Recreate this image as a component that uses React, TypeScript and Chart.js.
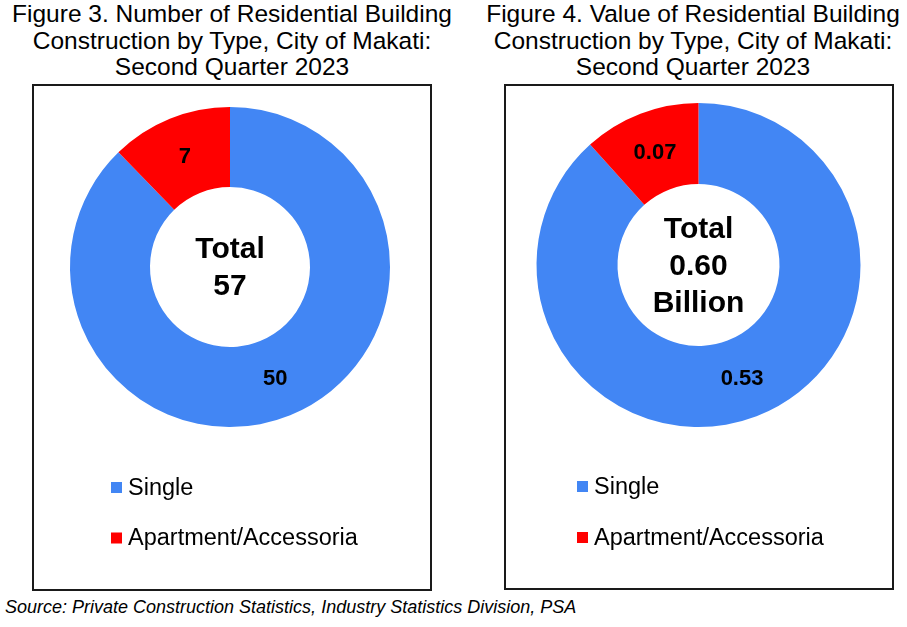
import React, { useEffect, useRef } from "react";
import { Chart, registerables } from "chart.js";

Chart.register(...registerables);

// ---- Data ----
const categories = ["Single", "Apartment/Accessoria"];
const sliceColors = ["#4286F4", "#FF0000"];
const numberValues = [50, 7];
const valueBillions = [0.53, 0.07];
const titleFig3 = [
  "Figure 3. Number of Residential Building",
  "Construction by Type, City of Makati:",
  "Second Quarter 2023",
];
const titleFig4 = [
  "Figure 4. Value of Residential Building",
  "Construction by Type, City of Makati:",
  "Second Quarter 2023",
];
const sourceText =
  "Source: Private Construction Statistics, Industry Statistics Division, PSA";

const FONT = '"Liberation Sans", Arial, Helvetica, sans-serif';

type PanelProps = {
  title: string[];
  titleCenter: number;
  values: number[];
  fmt: (v: number) => string;
  centerLines: string[];
  box: { left: number; top: number; width: number; height: number };
  padding: { left: number; right: number; top: number; bottom: number };
  legend: { x: number; y: number; gap: number };
};

function Panel(p: PanelProps) {
  const ref = useRef<HTMLCanvasElement | null>(null);
  const innerW = p.box.width - 4;
  const innerH = p.box.height - 4;

  useEffect(() => {
    if (!ref.current) return;
    const overlay = {
      id: "overlay",
      afterDatasetsDraw(chart: any) {
        const ctx = chart.ctx as CanvasRenderingContext2D;
        const meta = chart.getDatasetMeta(0);
        ctx.save();
        // slice labels
        ctx.fillStyle = "#000";
        ctx.textAlign = "center";
        ctx.textBaseline = "middle";
        ctx.font = `bold 22px ${FONT}`;
        meta.data.forEach((arc: any, i: number) => {
          const pt = arc.getCenterPoint();
          ctx.fillText(p.fmt(p.values[i]), pt.x, pt.y + 1);
        });
        // center text
        const c = meta.data[0];
        const cx = c.x;
        const cy = c.y;
        ctx.font = `bold 30px ${FONT}`;
        const lh = 37;
        const n = p.centerLines.length;
        p.centerLines.forEach((t, i) => {
          ctx.fillText(t, cx, cy + (i - (n - 1) / 2) * lh + 1.5);
        });
        // legend
        ctx.textAlign = "left";
        ctx.font = `23.5px ${FONT}`;
        chart.data.labels.forEach((lab: string, i: number) => {
          const y = p.legend.y + i * p.legend.gap;
          ctx.fillStyle = chart.data.datasets[0].backgroundColor[i];
          ctx.fillRect(p.legend.x, y - 5.5, 11, 11);
          ctx.fillStyle = "#000";
          ctx.fillText(lab, p.legend.x + 17, y + 1);
        });
        ctx.restore();
      },
    };
    const chart = new Chart(ref.current, {
      type: "doughnut",
      data: {
        labels: categories,
        datasets: [
          {
            data: p.values,
            backgroundColor: sliceColors,
            borderWidth: 0,
          },
        ],
      },
      options: {
        responsive: false,
        animation: false,
        devicePixelRatio: 1,
        cutout: "50%",
        layout: { padding: p.padding },
        plugins: {
          legend: { display: false },
          tooltip: { enabled: false },
          title: { display: false },
        },
      } as any,
      plugins: [overlay],
    });
    return () => chart.destroy();
  }, []);

  return (
    <>
      <div
        style={{
          position: "absolute",
          left: p.titleCenter - 250,
          width: 500,
          top: 1,
          textAlign: "center",
          fontFamily: FONT,
          fontSize: 24.5,
          lineHeight: "26.5px",
          color: "#000",
        }}
      >
        {p.title.map((t, i) => (
          <div key={i}>{t}</div>
        ))}
      </div>
      <div
        style={{
          position: "absolute",
          left: p.box.left,
          top: p.box.top,
          width: innerW,
          height: innerH,
          border: "2px solid #1a1a1a",
          background: "#fff",
        }}
      >
        <canvas
          ref={ref}
          width={innerW}
          height={innerH}
          style={{ display: "block", width: innerW, height: innerH }}
        />
      </div>
    </>
  );
}

export default function App() {
  const total1 = numberValues.reduce((a, b) => a + b, 0);
  const total2 = valueBillions.reduce((a, b) => a + b, 0);
  return (
    <div
      style={{
        position: "absolute",
        left: 0,
        top: 0,
        width: 907,
        height: 627,
        background: "#fff",
        overflow: "hidden",
      }}
    >
      <Panel
        title={titleFig3}
        titleCenter={232}
        values={numberValues}
        fmt={(v) => String(v)}
        centerLines={["Total", String(total1)]}
        box={{ left: 32, top: 84, width: 400, height: 507 }}
        padding={{ left: 36, right: 40, top: 21, bottom: 162 }}
        legend={{ x: 77, y: 401.5, gap: 50.5 }}
      />
      <Panel
        title={titleFig4}
        titleCenter={693}
        values={valueBillions}
        fmt={(v) => v.toFixed(2)}
        centerLines={["Total", total2.toFixed(2), "Billion"]}
        box={{ left: 504, top: 84, width: 390, height: 506 }}
        padding={{ left: 30, right: 31, top: 17, bottom: 161 }}
        legend={{ x: 71, y: 400.5, gap: 51 }}
      />
      <div
        style={{
          position: "absolute",
          left: 5,
          top: 596,
          fontFamily: FONT,
          fontStyle: "italic",
          fontSize: 18,
          lineHeight: "22px",
          color: "#000",
          whiteSpace: "nowrap",
        }}
      >
        {sourceText}
      </div>
    </div>
  );
}
